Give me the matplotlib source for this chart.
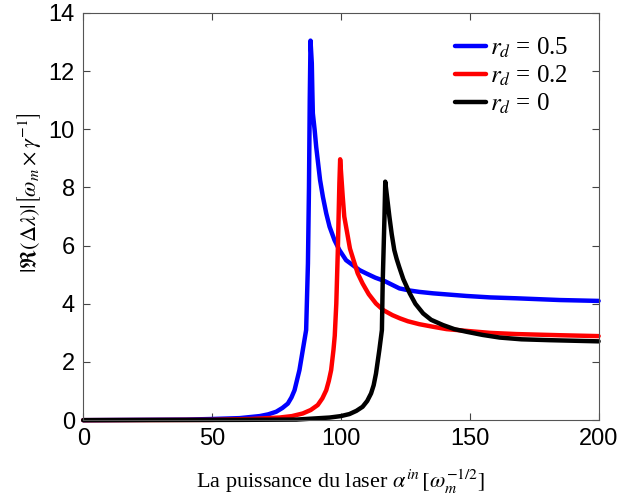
import matplotlib
matplotlib.use("Agg")
import matplotlib.pyplot as plt

plt.rcParams['mathtext.fontset'] = 'stix'
plt.rcParams['font.family'] = ['Liberation Sans', 'DejaVu Sans']

labels = [r'$r_d$ = 0.5', r'$r_d$ = 0.2', r'$r_d$ = 0']
colors = ['#0000ff', '#ff0000', '#000000']

x_05 = [0, 40, 50, 60.7, 68.5, 71.8, 74.9, 77.3, 79.4, 80.8, 82.0, 83.9, 85.2,
        86.5, 87.2, 87.6, 87.9, 88.2, 88.7, 88.9, 89.1, 89.8, 90.4, 91.9, 93.0,
        94.3, 95.6, 97.5, 99.4, 102.0, 107.2, 109.7, 113.3, 117, 122.7, 126.5,
        130.4, 135.8, 148.7, 158, 168.1, 185, 200]
y_05 = [0, 0.02, 0.04, 0.07, 0.14, 0.2, 0.29, 0.42, 0.57, 0.78, 1.03, 1.72, 2.41,
        3.1, 5.39, 8.0, 11.0, 13.05, 12.27, 11.35, 10.55, 9.98, 9.40, 8.26, 7.68,
        7.11, 6.65, 6.19, 5.85, 5.5, 5.16, 5.05, 4.9, 4.78, 4.53, 4.46,
        4.41, 4.36, 4.27, 4.22, 4.19, 4.13, 4.10]

x_02 = [0, 50, 65, 76.2, 81, 85.2, 88.3, 91.0, 92.8, 94.3, 95.3, 96.2, 97.1,
        97.6, 98.2, 98.8, 99.4, 99.7, 100.7, 101.3, 102.3, 103.5, 104.9, 106.5,
        108.4, 110.8, 113.6, 116.5, 120, 122.9, 126, 130.4, 135.8, 141, 148.7,
        158, 168.1, 185, 200]
y_02 = [0, 0.01, 0.04, 0.09, 0.14, 0.23, 0.35, 0.52, 0.75, 1.03, 1.35, 1.72, 2.41,
        2.9, 4.0, 5.85, 8.14, 8.97, 7.68, 7.0, 6.5, 5.9, 5.5, 5.05,
        4.70, 4.33, 4.01, 3.78, 3.61, 3.50, 3.40, 3.30, 3.21, 3.13, 3.07,
        3.0, 2.96, 2.92, 2.89]

x_0 = [0, 60, 82.7, 95.6, 100, 103.3, 106, 108.4, 110.2, 111.7, 112.7, 113.6,
       114.9, 115.9, 116.2, 116.9, 117.2, 118, 118.8, 119.7, 120.7, 121.6,
       122.6, 124.2, 126.7, 128.9, 131.9, 135, 139.6, 144, 148.7, 155, 161.6,
       170, 181, 200]
y_0 = [0, 0.01, 0.02, 0.09, 0.14, 0.21, 0.32, 0.46, 0.66, 0.92, 1.2, 1.6,
       2.41, 3.1, 4.70, 7.0, 8.2, 7.6, 7.0, 6.4, 5.85, 5.55,
       5.27, 4.85, 4.36, 4.0, 3.67, 3.45, 3.27, 3.13, 3.04, 2.93, 2.84,
       2.78, 2.75, 2.71]

fig = plt.figure(figsize=(6.21, 4.99), dpi=100)
ax = fig.add_axes([0.134, 0.158, 0.830, 0.816])

for xs, ys, c, lab in zip([x_05, x_02, x_0], [y_05, y_02, y_0], colors, labels):
    ax.plot(xs, ys, color=c, lw=3.2, label=lab, clip_on=False,
            solid_joinstyle='round', solid_capstyle='round')

ax.set_xlim(0, 200)
ax.set_ylim(0, 14)
ax.set_xticks([0, 50, 100, 150, 200])
ax.set_yticks(range(0, 15, 2))
ax.tick_params(direction='in', top=True, right=True, length=5,
               labelsize=17, color='#444444', pad=6)
for s in ax.spines.values():
    s.set_color('#555555')
    s.set_linewidth(0.8)

ax.set_xlabel(r'La puissance du laser $\alpha^{in}\,[\omega_m^{-1/2}]$',
              family='Liberation Serif', fontsize=16, labelpad=12)
ax.set_ylabel(r'$|\Re(\Delta\lambda)|\left[\omega_m\times\gamma^{-1}\right]$',
              fontsize=16)
ax.yaxis.set_label_coords(-0.078, 0.56)

ax.legend(loc='upper right', frameon=False, handlelength=1.25,
          handletextpad=0.15, labelspacing=0.15,
          prop={'family': 'Liberation Serif', 'size': 18},
          bbox_to_anchor=(0.985, 1.0))

fig.savefig('out.png', dpi=100)
